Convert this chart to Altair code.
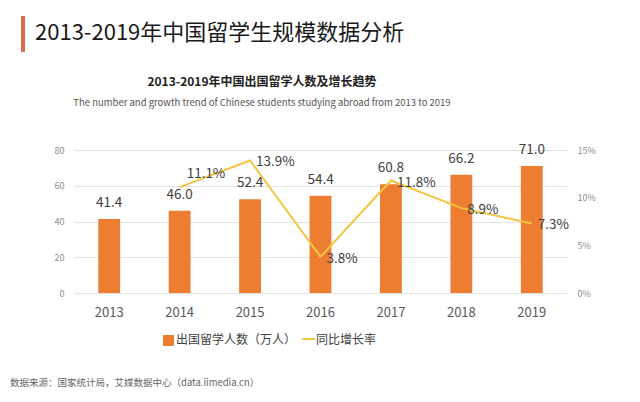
import altair as alt
import pandas as pd

years = ["2013", "2014", "2015", "2016", "2017", "2018", "2019"]
students = [41.4, 46.0, 52.4, 54.4, 60.8, 66.2, 71.0]
growth = [None, 11.1, 13.9, 3.8, 11.8, 8.9, 7.3]

FONT = "Noto Sans CJK SC"
BAR_C = "#ED7D31"
LINE_C = "#F4C542"

df = pd.DataFrame({"year": years, "students": students, "growth": growth})
one = pd.DataFrame({"a": [0]})

x = alt.X("year:N", sort=years, title=None,
          scale=alt.Scale(paddingInner=0.69),
          axis=alt.Axis(labelAngle=0, labelFontSize=13, labelColor="#595959",
                        labelFont=FONT, labelPadding=13, domain=False, ticks=False))

ly = alt.Y("students:Q", title=None,
           scale=alt.Scale(domain=[0, 80]),
           axis=alt.Axis(values=[0, 20, 40, 60, 80], labelFontSize=9, labelColor="#8c8c8c",
                         labelFont=FONT, labelPadding=10, domain=False, ticks=False,
                         labelOverlap=False, gridColor="#e3e3e3", gridWidth=1))

base = alt.Chart(df)

bars = base.mark_bar(color=BAR_C).encode(x=x, y=ly)
bar_labels = base.mark_text(font=FONT, fontSize=13.5, color="#404040", baseline="middle", dy=-16).encode(
    x=x, y=ly, text=alt.Text("students:Q", format=".1f"),
)
bar_layer = alt.layer(bars, bar_labels)

gbase = base.transform_filter("isValid(datum.growth)").transform_calculate(
    lbl="format(datum.growth, '.1f') + '%'")
gy = alt.Y("growth:Q", title=None, scale=alt.Scale(domain=[0, 15]),
           axis=alt.Axis(orient="right", values=[0, 5, 10, 15], labelExpr="datum.value + '%'",
                         labelFontSize=9, labelColor="#8c8c8c", labelFont=FONT, labelOverlap=False,
                         labelPadding=10, domain=False, ticks=False, grid=False))
line = gbase.mark_line(color=LINE_C, strokeWidth=2).encode(x=x, y=gy)
glabels = gbase.transform_filter("datum.year != '2014'").mark_text(
    font=FONT, fontSize=13.5, color="#404040", align="left", baseline="middle", dx=6, dy=2
).encode(x=x, y=gy, text="lbl:N")
glabel14 = gbase.transform_filter("datum.year == '2014'").mark_text(
    font=FONT, fontSize=13.5, color="#404040", align="left", baseline="middle", dx=7, dy=-13
).encode(x=x, y=gy, text="lbl:N")
line_layer = alt.layer(line, glabels, glabel14)

deco = alt.Chart(one)
title_bar = deco.mark_rect(color="#DD6B4D").encode(
    x=alt.value(-53), x2=alt.value(-49), y=alt.value(-134), y2=alt.value(-98))
title_txt = deco.mark_text(font=FONT, fontSize=22, color="#1a1a1a", align="left", baseline="middle").encode(
    x=alt.value(-39), y=alt.value(-117), text=alt.value("2013-2019年中国留学生规模数据分析"))
sub1 = deco.mark_text(font=FONT, fontSize=12, fontWeight="bold", color="#222222", align="center", baseline="middle").encode(
    x=alt.value(188), y=alt.value(-68), text=alt.value("2013-2019年中国出国留学人数及增长趋势"))
sub2 = deco.mark_text(font=FONT, fontSize=9.5, color="#555555", align="center", baseline="middle").encode(
    x=alt.value(188), y=alt.value(-47),
    text=alt.value("The number and growth trend of Chinese students studying abroad from 2013 to 2019"))
leg_sq = deco.mark_rect(color=BAR_C).encode(
    x=alt.value(89), x2=alt.value(100), y=alt.value(185), y2=alt.value(196))
leg_t1 = deco.mark_text(font=FONT, fontSize=12, color="#404040", align="left", baseline="middle").encode(
    x=alt.value(102), y=alt.value(190), text=alt.value("出国留学人数（万人）"))
leg_ln = deco.mark_rule(color=LINE_C, strokeWidth=2).encode(
    x=alt.value(228), x2=alt.value(241), y=alt.value(189))
leg_t2 = deco.mark_text(font=FONT, fontSize=12, color="#404040", align="left", baseline="middle").encode(
    x=alt.value(242), y=alt.value(190), text=alt.value("同比增长率"))
source = deco.mark_text(font=FONT, fontSize=9.5, color="#666666", align="left", baseline="middle").encode(
    x=alt.value(-64), y=alt.value(233), text=alt.value("数据来源：国家统计局，艾媒数据中心（data.iimedia.cn）"))
bottom_line = deco.mark_rule(color="#888888", strokeWidth=1.5).encode(
    x=alt.value(-74), x2=alt.value(570), y=alt.value(249))

chart = alt.layer(
    bar_layer, line_layer,
    title_bar, title_txt, sub1, sub2, leg_sq, leg_t1, leg_ln, leg_t2, source, bottom_line
).resolve_scale(y="independent").properties(
    width=493, height=143,
    autosize=alt.AutoSizeParams(type="none"),
    padding={"left": 66, "top": 142, "right": 65, "bottom": 101},
    background="white",
).configure_view(stroke=None)

chart.save("out.html", embed_options={"renderer": "svg", "actions": False})
